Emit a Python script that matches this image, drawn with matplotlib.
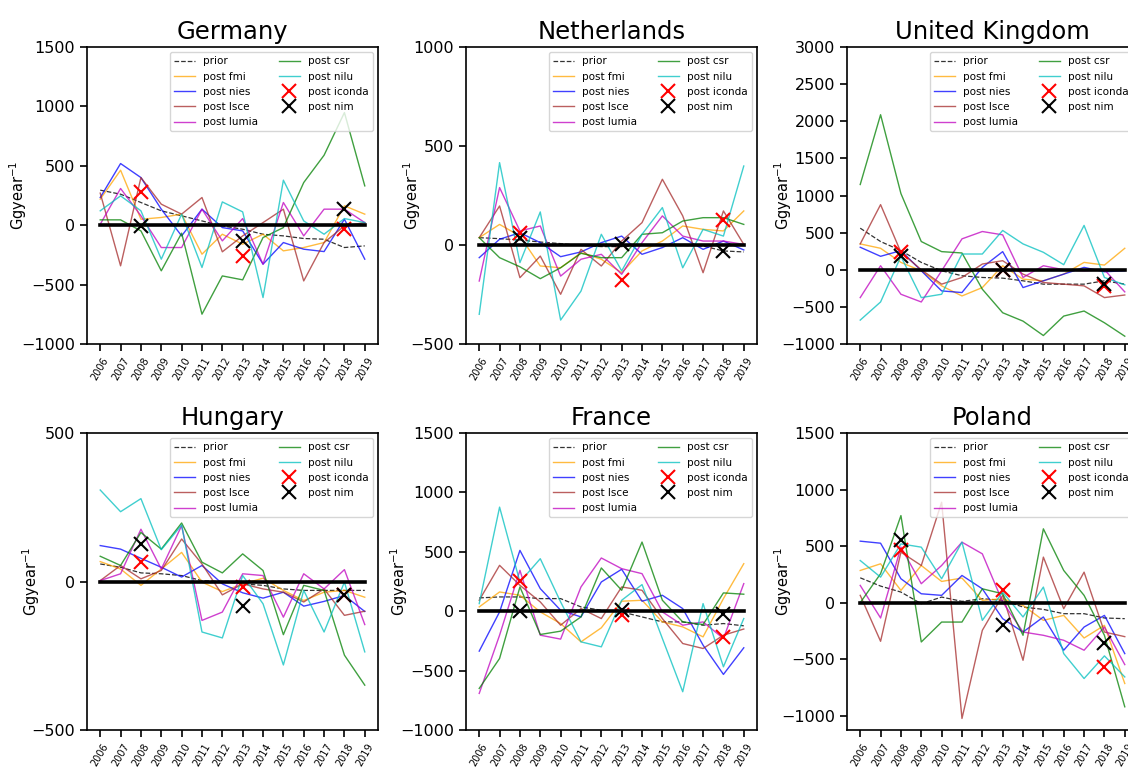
#!/usr/bin/env python

import matplotlib

matplotlib.use("Agg")

from matplotlib import pyplot as plt

years = list(range(2006, 2020))
marker_years = [2008, 2013, 2018]

# Germany
de_prior = [295, 261, 191, 121, 79, 36, -6, -34, -76, -90, -112, -118, -188, -174]
de_fmi = [219, 463, 50, 65, 93, -244, -76, -160, -76, -216, -188, -146, 163, 93]
de_nies = [233, 519, 401, 135, -90, 135, -20, -48, -328, -146, -202, -222, 50, -286]
de_lsce = [270, -342, 401, 177, 93, 233, -224, -90, 22, 135, -469, -146, -6, 22]
de_lumia = [8, 309, 79, -188, -188, 135, -132, 56, -328, 191, -90, 135, 135, 22]
de_csr = [45, 45, -48, -384, -67, -749, -427, -460, -104, -20, 359, 589, 948, 331]
de_nilu = [121, 247, 121, -286, 93, -356, 196, 112, -609, 379, 36, -76, 56, 22]
de_iconda = [281, -258, -28]
de_nim = [-6, -132, 135]

# Netherlands
nl_prior = [37, 32, 25, 15, 7, -2, -8, -8, -2, -2, -2, -5, -30, -35]
nl_fmi = [37, 104, 45, -106, -115, -39, -72, -140, -30, 20, 96, 79, 71, 172]
nl_nies = [-64, 29, 62, 12, -59, -35, 12, 45, -47, -13, 37, -22, 20, -25]
nl_lsce = [37, 197, -165, -56, -249, -22, -106, 20, 113, 332, 147, -140, 172, 3]
nl_lumia = [-182, 290, 71, 96, -157, -72, -47, -148, 12, 147, 45, 20, 20, 3]
nl_csr = [37, -64, -110, -170, -115, -42, -64, -64, 54, 62, 121, 138, 138, 104]
nl_nilu = [-350, 416, -89, 167, -379, -233, 54, -131, 54, 189, -115, 79, 45, 399]
nl_iconda = [62, -177, 125]
nl_nim = [37, 3, -30]

# United Kingdom
uk_prior = [560, 380, 258, 99, -14, -81, -104, -113, -149, -194, -194, -194, -149, -194]
uk_fmi = [348, 289, 99, -14, -217, -353, -240, 54, -127, -149, -59, 99, 63, 289]
uk_nies = [303, 181, 258, -14, -285, -307, 32, 244, -240, -149, -59, 32, -27, -14]
uk_lsce = [348, 877, 235, 0, -194, -104, 77, 122, -59, -172, -194, -217, -375, -340]
uk_lumia = [-375, 54, -330, -434, -14, 416, 515, 470, -104, 54, 0, -14, 0, -298]
uk_csr = [1148, 2088, 1026, 380, 244, 226, -262, -579, -692, -886, -624, -556, -714, -895]
uk_nilu = [-678, -434, 181, -375, -330, 212, 212, 529, 348, 235, 68, 597, -104, -203]
uk_iconda = [235, 0, -217]
uk_nim = [181, 0, -194]

# Hungary
hu_prior = [59, 48, 29, 26, 20, 3, 0, -8, -13, -25, -30, -30, -30, -30]
hu_fmi = [67, 42, -13, 42, 98, -2, -34, -8, 11, -30, -64, -36, -30, -53]
hu_nies = [121, 109, 78, 48, 15, 54, -8, -38, -56, -36, -83, -67, -47, -101]
hu_lsce = [3, 54, 9, 37, 143, 59, -45, -8, -25, -36, -69, -25, -114, -100]
hu_lumia = [3, 26, 176, 42, 188, -131, -103, 26, 20, -120, 26, -25, 40, -145]
hu_csr = [85, 54, 165, 109, 197, 65, 29, 93, 37, -179, -13, -30, -248, -349]
hu_nilu = [308, 235, 279, 107, 190, -170, -190, 20, -75, -281, -30, -170, -2, -237]
hu_iconda = [67, -19, -47]
hu_nim = [126, -83, -47]

# France
fr_prior = [112, 120, 120, 106, 106, 36, 8, -6, -48, -90, -90, -118, -104, -123]
fr_fmi = [36, 162, 134, -6, -104, -258, -140, 84, 92, -90, -132, -216, 106, 400]
fr_nies = [-336, -6, 512, 190, 8, -48, 246, 353, 84, 134, 22, -286, -532, -308]
fr_lsce = [92, 386, 218, 78, -118, 22, -62, 204, 176, -62, -272, -314, -202, -150]
fr_lumia = [-692, -202, 344, -202, -235, 204, 448, 358, 316, -6, -118, -90, -230, 232]
fr_csr = [-650, -398, 204, -196, -168, -48, 364, 176, 582, 92, -90, -112, 154, 143]
fr_nilu = [64, 876, 246, 442, 78, -258, -300, 92, 224, -230, -678, 64, -468, -62]
fr_iconda = [252, -34, -216]
fr_nim = [0, 8, -20]

# Poland
pl_prior = [220, 147, 94, -9, 50, 12, 35, 21, -38, -59, -97, -97, -135, -141]
pl_fmi = [285, 344, 109, 329, 188, 218, 21, 35, -24, -156, -112, -312, -200, -714]
pl_nies = [544, 526, 212, 79, 65, 241, 123, -141, -259, -126, -420, -215, -112, -450]
pl_lsce = [65, -341, 447, 329, 888, -1023, -244, 65, -509, 403, -53, 270, -259, -300]
pl_lumia = [153, -135, 491, 168, 329, 535, 432, 6, -259, -288, -332, -420, -215, -547]
pl_csr = [0, 256, 770, -347, -171, -171, 123, 79, -288, 653, 285, 65, -288, -920]
pl_nilu = [373, 226, 520, 491, 212, 535, -156, 94, -126, 138, -450, -670, -470, -656]
pl_iconda = [462, 109, -567]
pl_nim = [550, -200, -353]

countries = ["Germany", "Netherlands", "United Kingdom", "Hungary", "France", "Poland"]
ylims = [(-1000, 1500), (-500, 1000), (-1000, 3000), (-500, 500), (-1000, 1500), (-1125, 1500)]
yticks = [range(-1000, 1501, 500), range(-500, 1001, 500), range(-1000, 3001, 500),
          range(-500, 501, 500), range(-1000, 1501, 500), range(-1000, 1501, 500)]
# where the y label sits, in axes units
ylabel_x = [-0.200, -0.148, -0.182, -0.154, -0.192, -0.182]

series = {
    "Germany": (de_prior, de_fmi, de_nies, de_lsce, de_lumia, de_csr, de_nilu, de_iconda, de_nim),
    "Netherlands": (nl_prior, nl_fmi, nl_nies, nl_lsce, nl_lumia, nl_csr, nl_nilu, nl_iconda, nl_nim),
    "United Kingdom": (uk_prior, uk_fmi, uk_nies, uk_lsce, uk_lumia, uk_csr, uk_nilu, uk_iconda, uk_nim),
    "Hungary": (hu_prior, hu_fmi, hu_nies, hu_lsce, hu_lumia, hu_csr, hu_nilu, hu_iconda, hu_nim),
    "France": (fr_prior, fr_fmi, fr_nies, fr_lsce, fr_lumia, fr_csr, fr_nilu, fr_iconda, fr_nim),
    "Poland": (pl_prior, pl_fmi, pl_nies, pl_lsce, pl_lumia, pl_csr, pl_nilu, pl_iconda, pl_nim),
}

line_names = ["post fmi", "post nies", "post lsce", "post lumia", "post csr", "post nilu"]
line_colors = ["orange", "blue", "brown", "m", "g", "c"]

plt.rcParams["axes.linewidth"] = 1.2
plt.rcParams["xtick.major.width"] = 1.2
plt.rcParams["ytick.major.width"] = 1.2
plt.rcParams["xtick.major.size"] = 5
plt.rcParams["ytick.major.size"] = 5

fig = plt.figure(figsize=(11.28, 7.72), dpi=100)

W, H = 1128., 772.
lefts = [87, 466, 847]
tops = [47, 433]
aw, ah = 291, 297

for k, country in enumerate(countries):
    row, col = divmod(k, 3)
    ax = fig.add_axes([lefts[col] / W, 1 - (tops[row] + ah) / H, aw / W, ah / H])

    prior, fmi, nies, lsce, lumia, csr, nilu, iconda, nim = series[country]

    ax.plot(years, prior, "k--", lw=0.9, alpha=0.8, label="prior")
    for vals, name, c in zip((fmi, nies, lsce, lumia, csr, nilu), line_names, line_colors):
        ax.plot(years, vals, color=c, lw=1.0, alpha=0.75, label=name)
    ax.plot(marker_years, iconda, "x", color="red", ms=10, mew=1.5, ls="none", label="post iconda")
    ax.plot(marker_years, nim, "x", color="black", ms=10, mew=1.5, ls="none", label="post nim")
    ax.plot(years, [0] * len(years), "k-", lw=2.6)

    ax.set_ylim(*ylims[k])
    ax.set_yticks(list(yticks[k]))
    ax.set_xticks(years)
    ax.set_xticklabels([str(y) for y in years], rotation=60, fontsize=7)
    ax.tick_params(axis="y", labelsize=11.5)
    ax.set_ylabel("Ggyear$^{-1}$", fontsize=10.5)
    ax.yaxis.set_label_coords(ylabel_x[k], 0.5)
    ax.set_title(country, fontsize=17.5)
    ax.legend(ncol=2, loc="upper right", fontsize=7.5)

plt.savefig("out.png", dpi=100)
